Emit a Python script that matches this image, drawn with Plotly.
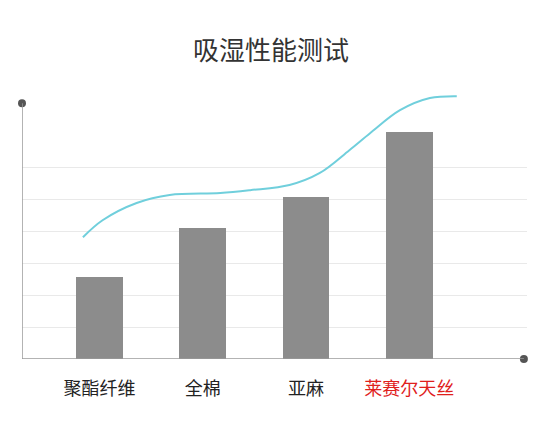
import plotly.graph_objects as go

title_text = "吸湿性能测试"
categories = ["聚酯纤维", "全棉", "亚麻", "莱赛尔天丝"]
bar_values = [2.56, 4.09, 5.06, 7.09]

curve_x = [-0.16, 0.03, 0.36, 0.68, 1.17, 1.46, 1.84, 2.13, 2.42, 2.62, 2.91, 3.2, 3.46]
curve_y = [3.81, 4.34, 4.88, 5.13, 5.19, 5.28, 5.44, 5.81, 6.53, 7.06, 7.78, 8.16, 8.22]

grid_vals = [1, 2, 3, 4, 5, 6]
x_range = [-0.75, 4.14]
y_range = [0, 8.6]
y_axis_top = 8

font_family = "Noto Sans CJK SC, Noto Sans, sans-serif"

tick_text = [
    c if i < len(categories) - 1 else f"<span style='color:#e0201c'>{c}</span>"
    for i, c in enumerate(categories)
]

fig = go.Figure()
fig.add_trace(go.Bar(
    x=list(range(len(categories))), y=bar_values, width=0.455,
    marker=dict(color="#8c8c8c", line=dict(width=0)), hoverinfo="skip",
))
fig.add_trace(go.Scatter(
    x=curve_x, y=curve_y, mode="lines",
    line=dict(color="#70cfdc", width=2, shape="spline", smoothing=1.0),
    hoverinfo="skip",
))

# axis lines and end dots
fig.add_shape(type="line", x0=x_range[0], x1=x_range[0], y0=0, y1=y_axis_top,
              line=dict(color="#9a9a9a", width=1.5), layer="above")
fig.add_shape(type="line", x0=x_range[0], x1=x_range[1] - 0.03, y0=0, y1=0,
              line=dict(color="#9a9a9a", width=1.5), layer="above")
fig.add_trace(go.Scatter(
    x=[x_range[0], x_range[1] - 0.03], y=[y_axis_top, 0], mode="markers",
    marker=dict(color="#555555", size=8), cliponaxis=False, hoverinfo="skip",
))

fig.update_layout(
    width=545, height=424,
    margin=dict(l=14, r=26, t=76, b=73),
    paper_bgcolor="white", plot_bgcolor="white",
    showlegend=False,
    title=dict(text=title_text, x=0.4826, xanchor="center", y=0.8986, yanchor="middle",
               font=dict(family=font_family, size=26, color="#333333")),
    font=dict(family=font_family),
    bargap=0,
)
fig.update_xaxes(
    range=x_range, tickvals=list(range(len(categories))), ticktext=tick_text,
    showgrid=False, zeroline=False, showline=False, ticks="",
    tickfont=dict(family=font_family, size=18, color="#222222"),
    ticklabelstandoff=17,
)
fig.update_yaxes(
    range=y_range, tickvals=grid_vals, showticklabels=False, showgrid=True,
    gridcolor="#e9e9e9", gridwidth=1, zeroline=False, showline=False, ticks="",
)

fig.write_html("out.html")
